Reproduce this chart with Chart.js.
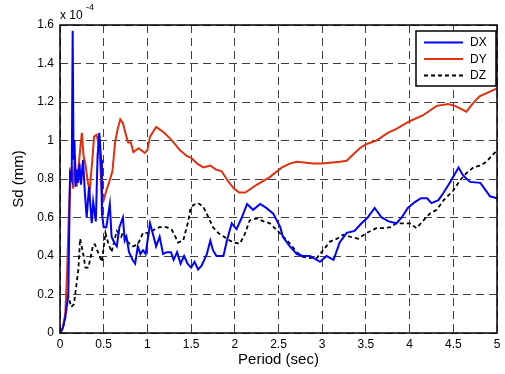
<!DOCTYPE html>
<html>
<head>
<meta charset="utf-8">
<script src="https://cdn.jsdelivr.net/npm/chart.js@4.4.1/dist/chart.umd.min.js"></script>
<style>
  html, body { margin: 0; padding: 0; background: #fff; }
  #graficoSd { display: block; }
</style>
</head>
<body>
<canvas id="graficoSd" width="505" height="374"></canvas>
<script>
// eixos
const xTicks = [0, 0.5, 1, 1.5, 2, 2.5, 3, 3.5, 4, 4.5, 5];
const yTicks = [0, 0.2, 0.4, 0.6, 0.8, 1, 1.2, 1.4, 1.6];
const seriesNames = ['DX', 'DY', 'DZ'];

// DX (azul)
const dxPeriod = [0, 0.035, 0.06, 0.08, 0.095, 0.115, 0.134, 0.145, 0.155, 0.166, 0.177, 0.19, 0.206, 0.223, 0.24, 0.263, 0.286, 0.305, 0.332, 0.363, 0.38, 0.41, 0.43, 0.45, 0.47, 0.48, 0.5, 0.53, 0.57, 0.59, 0.62, 0.65, 0.68, 0.72, 0.74, 0.76, 0.79, 0.83, 0.86, 0.89, 0.92, 0.95, 0.98, 1.03, 1.06, 1.1, 1.14, 1.18, 1.22, 1.27, 1.3, 1.34, 1.38, 1.42, 1.46, 1.5, 1.54, 1.58, 1.62, 1.68, 1.72, 1.75, 1.79, 1.87, 1.91, 1.965, 2.02, 2.08, 2.14, 2.21, 2.29, 2.36, 2.44, 2.52, 2.55, 2.63, 2.71, 2.78, 2.86, 2.975, 3.05, 3.13, 3.2, 3.28, 3.37, 3.45, 3.52, 3.6, 3.68, 3.76, 3.85, 3.91, 3.98, 4.06, 4.13, 4.2, 4.25, 4.33, 4.39, 4.46, 4.56, 4.61, 4.69, 4.81, 4.92, 5];
const dxSd = [0, 0.03, 0.08, 0.15, 0.2, 0.83, 0.8, 1.57, 0.9, 1.0, 0.76, 0.85, 0.78, 0.88, 0.77, 0.9, 0.72, 0.6, 0.76, 0.57, 0.68, 0.58, 0.92, 1.04, 0.9, 0.62, 0.55, 0.55, 0.67, 0.5, 0.47, 0.45, 0.55, 0.6, 0.48, 0.5, 0.42, 0.38, 0.36, 0.45, 0.41, 0.43, 0.41, 0.57, 0.52, 0.45, 0.5, 0.41, 0.42, 0.42, 0.38, 0.42, 0.36, 0.4, 0.36, 0.34, 0.37, 0.33, 0.35, 0.41, 0.48, 0.43, 0.4, 0.4, 0.48, 0.57, 0.54, 0.6, 0.67, 0.64, 0.67, 0.65, 0.62, 0.55, 0.5, 0.45, 0.41, 0.4, 0.4, 0.37, 0.4, 0.38, 0.47, 0.52, 0.53, 0.57, 0.6, 0.65, 0.6, 0.58, 0.57, 0.6, 0.65, 0.68, 0.7, 0.7, 0.675, 0.69, 0.73, 0.78, 0.86, 0.82, 0.785, 0.78, 0.71, 0.7];

// DY (vermelho)
const dyPeriod = [0, 0.03, 0.06, 0.08, 0.1, 0.115, 0.13, 0.15, 0.17, 0.19, 0.21, 0.23, 0.25, 0.27, 0.29, 0.32, 0.34, 0.37, 0.39, 0.42, 0.44, 0.46, 0.48, 0.5, 0.53, 0.56, 0.6, 0.63, 0.66, 0.69, 0.72, 0.76, 0.78, 0.81, 0.84, 0.9, 0.97, 1.0, 1.03, 1.1, 1.18, 1.26, 1.3, 1.37, 1.45, 1.5, 1.57, 1.64, 1.72, 1.78, 1.85, 1.92, 1.99, 2.05, 2.12, 2.25, 2.4, 2.54, 2.63, 2.71, 2.9, 3.0, 3.09, 3.2, 3.28, 3.36, 3.43, 3.5, 3.62, 3.75, 3.85, 4.0, 4.15, 4.31, 4.44, 4.52, 4.65, 4.72, 4.8, 5];
const dySd = [0, 0.02, 0.1, 0.3, 0.6, 0.78, 0.86, 0.75, 0.92, 0.76, 0.85, 0.95, 1.04, 0.92, 0.88, 0.78, 0.74, 0.9, 1.02, 1.03, 0.98, 0.88, 0.72, 0.69, 0.74, 0.78, 0.84, 0.99, 1.06, 1.11, 1.09, 1.02, 0.99, 0.99, 0.94, 0.96, 0.935, 0.95, 1.02, 1.07, 1.045, 1.01, 0.99, 0.95, 0.92, 0.91, 0.88, 0.86, 0.87, 0.85, 0.84, 0.79, 0.75, 0.73, 0.73, 0.77, 0.81, 0.86, 0.88, 0.89, 0.88, 0.88, 0.885, 0.89, 0.895, 0.93, 0.96, 0.98, 1.0, 1.04, 1.06, 1.1, 1.13, 1.18, 1.19, 1.18, 1.15, 1.19, 1.23, 1.27];

// DZ (preto tracejado)
const dzPeriod = [0, 0.03, 0.06, 0.095, 0.13, 0.16, 0.21, 0.23, 0.27, 0.29, 0.325, 0.38, 0.4, 0.46, 0.48, 0.52, 0.55, 0.59, 0.65, 0.7, 0.72, 0.78, 0.835, 0.89, 0.95, 1.03, 1.07, 1.14, 1.22, 1.28, 1.32, 1.35, 1.41, 1.45, 1.47, 1.49, 1.525, 1.58, 1.64, 1.7, 1.75, 1.81, 1.91, 1.98, 2.06, 2.12, 2.17, 2.25, 2.33, 2.4, 2.48, 2.555, 2.63, 2.71, 2.78, 2.86, 2.94, 3.01, 3.09, 3.17, 3.24, 3.32, 3.41, 3.51, 3.62, 3.7, 3.78, 3.85, 3.92, 4.0, 4.08, 4.16, 4.23, 4.31, 4.39, 4.5, 4.58, 4.65, 4.73, 4.81, 4.88, 5];
const dzSd = [0, 0.02, 0.08, 0.19, 0.135, 0.15, 0.33, 0.49, 0.4, 0.34, 0.34, 0.46, 0.46, 0.39, 0.37, 0.52, 0.47, 0.42, 0.53, 0.5, 0.52, 0.47, 0.45, 0.46, 0.52, 0.52, 0.535, 0.55, 0.55, 0.535, 0.5, 0.47, 0.48, 0.55, 0.585, 0.64, 0.665, 0.675, 0.655, 0.6, 0.55, 0.52, 0.49, 0.47, 0.465, 0.52, 0.585, 0.595, 0.58, 0.57, 0.535, 0.5, 0.465, 0.42, 0.395, 0.39, 0.39, 0.43, 0.475, 0.49, 0.51, 0.5, 0.49, 0.52, 0.545, 0.545, 0.55, 0.57, 0.57, 0.57, 0.545, 0.585, 0.62, 0.64, 0.69, 0.74, 0.795, 0.83, 0.86, 0.87, 0.89, 0.95];

const fonte = '"Liberation Sans", Arial, sans-serif';

function pontos(xs, ys) {
    return xs.map((x, i) => ({ x: x, y: ys[i] }));
}

// moldura, multiplicador "x 10^-4" e legenda dentro do gráfico
const molduraPlugin = {
    id: 'moldura',
    afterDraw(chart) {
        const ctx = chart.ctx;
        const a = chart.chartArea;
        ctx.save();
        ctx.setLineDash([]);
        ctx.strokeStyle = '#000';
        ctx.lineWidth = 1.5;
        ctx.strokeRect(a.left, a.top, a.right - a.left, a.bottom - a.top);

        ctx.fillStyle = '#000';
        ctx.textBaseline = 'alphabetic';
        ctx.textAlign = 'left';
        ctx.font = '12px ' + fonte;
        ctx.fillText('x 10', a.left, a.top - 6);
        ctx.font = '9px ' + fonte;
        ctx.fillText('-4', a.left + 26, a.top - 15);

        // legenda
        const lx = 416, ly = 31, lw = 80, lh = 55;
        ctx.fillStyle = '#fff';
        ctx.fillRect(lx, ly, lw, lh);
        ctx.strokeStyle = '#000';
        ctx.lineWidth = 1.5;
        ctx.strokeRect(lx, ly, lw, lh);
        ctx.font = '12px ' + fonte;
        ctx.textBaseline = 'middle';
        chart.data.datasets.forEach((ds, i) => {
            const y = 42.5 + i * 16.5;
            ctx.beginPath();
            ctx.strokeStyle = ds.borderColor;
            ctx.lineWidth = ds.borderWidth;
            ctx.setLineDash(ds.borderDash || []);
            ctx.moveTo(424, y);
            ctx.lineTo(463, y);
            ctx.stroke();
            ctx.setLineDash([]);
            ctx.fillStyle = '#000';
            ctx.fillText(ds.label, 470, y + 0.5);
        });
        ctx.restore();
    }
};

const ctxSd = document.getElementById('graficoSd').getContext('2d');
const graficoSd = new Chart(ctxSd, {
    type: 'line',
    data: {
        datasets: [{
            label: seriesNames[0],
            data: pontos(dxPeriod, dxSd),
            borderColor: '#0000ff',
            borderWidth: 2,
            pointRadius: 0
        }, {
            label: seriesNames[1],
            data: pontos(dyPeriod, dySd),
            borderColor: '#e0300f',
            borderWidth: 2,
            pointRadius: 0
        }, {
            label: seriesNames[2],
            data: pontos(dzPeriod, dzSd),
            borderColor: '#000000',
            borderWidth: 1.8,
            borderDash: [4, 3],
            pointRadius: 0
        }]
    },
    options: {
        responsive: false,
        animation: false,
        layout: { padding: { top: 25, right: 8, left: 0, bottom: 0 } },
        plugins: {
            legend: { display: false },
            tooltip: { enabled: false }
        },
        scales: {
            x: {
                type: 'linear',
                min: 0,
                max: 5,
                afterBuildTicks: (scale) => { scale.ticks = xTicks.map(v => ({ value: v })); },
                afterFit: (scale) => { scale.height = 41; },
                ticks: {
                    color: '#000',
                    font: { family: fonte, size: 12 },
                    padding: 4,
                    maxRotation: 0,
                    callback: (v) => String(v)
                },
                grid: { color: 'rgba(0,0,0,0.75)', lineWidth: 1, drawTicks: false },
                border: { display: false, dash: [8, 5] },
                title: {
                    display: true,
                    text: 'Period (sec)',
                    color: '#000',
                    font: { family: fonte, size: 15 },
                    padding: { top: 0, bottom: 5 }
                }
            },
            y: {
                type: 'linear',
                min: 0,
                max: 1.6,
                afterBuildTicks: (scale) => { scale.ticks = yTicks.map(v => ({ value: v })); },
                afterFit: (scale) => { scale.width = 60; },
                ticks: {
                    color: '#000',
                    font: { family: fonte, size: 12 },
                    padding: 6,
                    callback: (v) => String(v)
                },
                grid: { color: 'rgba(0,0,0,0.75)', lineWidth: 1, drawTicks: false },
                border: { display: false, dash: [8, 5] },
                title: {
                    display: true,
                    text: 'Sd (mm)',
                    color: '#000',
                    font: { family: fonte, size: 15 },
                    padding: { top: 10, bottom: 0 }
                }
            }
        }
    },
    plugins: [molduraPlugin]
});
</script>
</body>
</html>
